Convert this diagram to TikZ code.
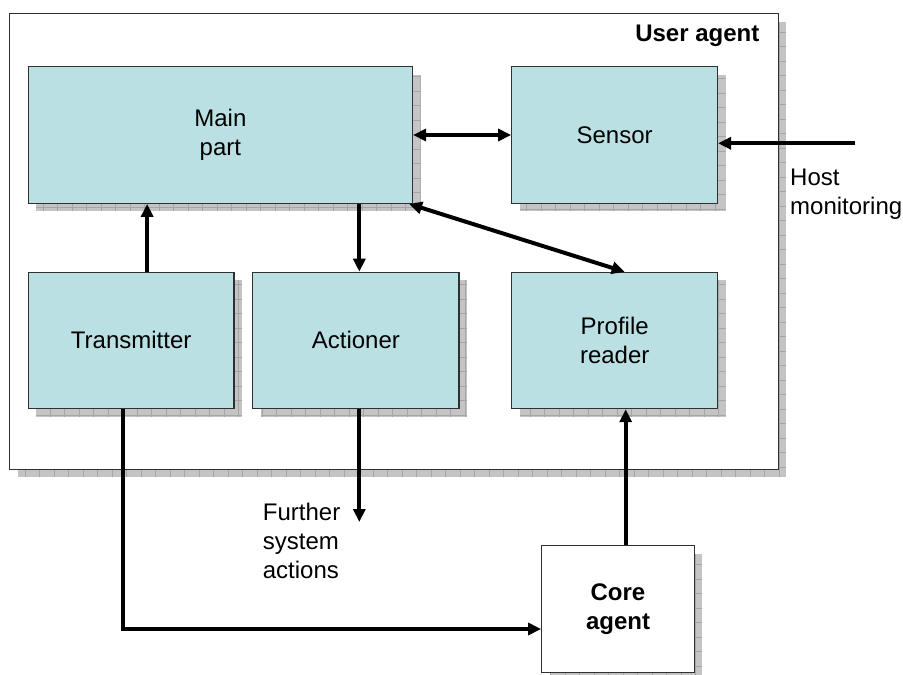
\documentclass[tikz,border=0pt]{standalone}
\usepackage{fontspec}
\setmainfont{Liberation Sans}
\usetikzlibrary{arrows.meta}
\definecolor{boxfill}{RGB}{187,224,227}
\definecolor{boxline}{RGB}{48,48,48}
\definecolor{shadowgray}{RGB}{196,196,196}
\definecolor{shadowtile}{RGB}{165,165,165}
\tikzset{
  shadowfx/.style={draw=none, fill=shadowgray,
    transform canvas={shift={(8pt,-8pt)}},
    path picture={\draw[shadowtile, line width=0.6pt]
      (path picture bounding box.south west) grid[step=14.5pt]
      (path picture bounding box.north east);}},
  txt/.style={font=\fontsize{24pt}{28.8pt}\selectfont, text=black},
  plainbox/.style={txt, rectangle, draw=boxline, line width=1.2pt,
    inner sep=0pt, align=center, preaction={shadowfx}},
  bluebox/.style={plainbox, fill=boxfill},
  whitebox/.style={plainbox, fill=white},
  conn/.style={line width=4pt, -{Triangle[length=13pt,width=12pt]}},
  dconn/.style={line width=4pt,
    {Triangle[length=13pt,width=12pt]}-{Triangle[length=13pt,width=12pt]}},
  freetext/.style={txt, inner sep=0pt, align=left}
}
\begin{document}
\begin{tikzpicture}[x=1pt,y=-1pt]
\useasboundingbox (0,0) rectangle (903,675);

% enclosing user agent
\node[whitebox, minimum width=768.8pt, minimum height=455.6pt] (ua) at (393.9,241.5) {};
\node[txt, font=\fontsize{24pt}{28.8pt}\selectfont\bfseries, inner sep=0pt, anchor=base east]
  (ualabel) at (759.5,41.7) {User agent};

% components
\node[bluebox, minimum width=384.2pt, minimum height=136.6pt] (main) at (220.4,135) {Main\\part};
\node[bluebox, minimum width=205.8pt, minimum height=136.6pt] (sensor) at (614.6,135) {Sensor};
\node[bluebox, minimum width=205.7pt, minimum height=136.2pt] (trans) at (131.15,340.4) {Transmitter};
\node[bluebox, minimum width=206.3pt, minimum height=136.2pt] (act) at (355.85,340.4) {Actioner};
\node[bluebox, minimum width=206pt, minimum height=136.2pt] (prof) at (614.7,340.5) {Profile\\reader};

% core agent
\node[whitebox, font=\fontsize{24pt}{28.8pt}\selectfont\bfseries,
  minimum width=152.6pt, minimum height=126.6pt] (core) at (618,609) {Core\\agent};

% free labels
\node[freetext, anchor=north west] (host) at (790,169.2) {Host\\monitoring};
\node[freetext, anchor=north west] (further) at (262.7,503.2) {Further\\system\\actions};

% loose ends
\coordinate (hostin) at (855,143.3);
\coordinate (furtherend) at (359.3,522);

% connectors
\draw[dconn] (main.east) -- (sensor.west);
\draw[conn] (hostin) -- (hostin -| sensor.east);
\draw[dconn] ([xshift=-4pt]main.south east) -- ([xshift=10pt]prof.north);
\draw[conn] ([xshift=16pt]trans.north) -- ([xshift=16pt]trans.north |- main.south);
\draw[conn] ([xshift=3.5pt]act.north |- main.south) -- ([xshift=3.5pt]act.north);
\draw[conn] (act.south -| furtherend) -- (furtherend);
\draw[conn] ([xshift=-8pt]trans.south) |- ([yshift=-20pt]core.west);
\draw[conn] ([xshift=7.7pt]core.north) -- ([xshift=7.7pt]core.north |- prof.south);
\end{tikzpicture}
\end{document}
